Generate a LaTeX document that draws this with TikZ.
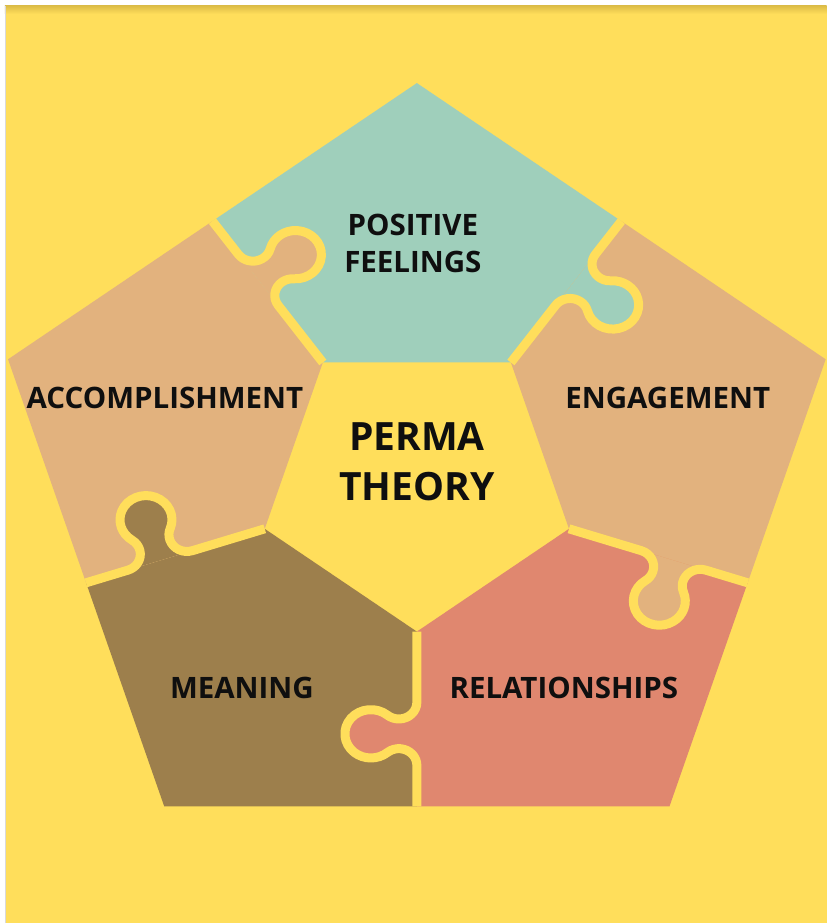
\documentclass[tikz,border=0pt]{standalone}
\usepackage{fontspec}
\setmainfont{Open Sans}
\definecolor{bgyellow}{RGB}{255,222,91}
\definecolor{topshade}{RGB}{222,190,72}
\definecolor{pgreen}{RGB}{159,207,187}
\definecolor{ptan}{RGB}{226,178,126}
\definecolor{pred}{RGB}{224,135,111}
\definecolor{pbrown}{RGB}{157,127,76}
\definecolor{ink}{RGB}{15,15,15}
\newcommand{\knobfill}{(236,0) arc[start angle=90, end angle=-39.5, radius=18]
   arc[start angle=140.5, end angle=399.5, radius=26]
   arc[start angle=219.5, end angle=90, radius=18] -- cycle}
\newcommand{\knobline}{(160,0) -- (236,0) arc[start angle=90, end angle=-39.5, radius=18]
   arc[start angle=140.5, end angle=399.5, radius=26]
   arc[start angle=219.5, end angle=90, radius=18] -- (348,0)}
\begin{document}
\begin{tikzpicture}[
    x=1pt, y=1pt,
    plabel/.style={font=\bfseries\fontsize{29.5}{37}\selectfont, text=ink, align=center},
    ptitle/.style={font=\bfseries\fontsize{39}{50}\selectfont, text=ink, align=center},
    gap/.style={draw=bgyellow, line width=9pt, line join=round}
    ]
\fill[white] (-417,-440) rectangle (410,483);
\fill[bgyellow] (-412,-440) rectangle (410,477);
\shade[top color=topshade, bottom color=bgyellow] (-412,469) rectangle (410,477);
\draw[black!15, line width=0.6pt] (-412,-440) -- (-412,477);
\begin{scope}[yscale=0.93]
\foreach \ang/\col in {90/pgreen, 18/ptan, -54/pred, -126/pbrown, 162/ptan}
   \fill[\col] ({\ang-36}:160) -- ({\ang-36}:347.9) -- (\ang:430)
      -- ({\ang+36}:347.9) -- ({\ang+36}:160) -- cycle;
\foreach \ang/\col in {90/pgreen, 18/ptan, -54/pred, -126/pbrown, 162/ptan}
   \fill[\col, rotate=\ang-36] \knobfill;
\foreach \ang in {54, -18, -90, -162, 126}
   \draw[gap, rotate=\ang] \knobline;
\end{scope}
\node[plabel] (pos) at (-4,239) {POSITIVE\\FEELINGS};
\node[plabel] (eng) at (251,85) {ENGAGEMENT};
\node[plabel] (rel) at (147,-205) {RELATIONSHIPS};
\node[plabel] (mea) at (-175,-205) {MEANING};
\node[plabel] (acc) at (-252,85) {ACCOMPLISHMENT};
\node[ptitle] (perma) at (0,21) {PERMA\\THEORY};
\end{tikzpicture}
\end{document}
